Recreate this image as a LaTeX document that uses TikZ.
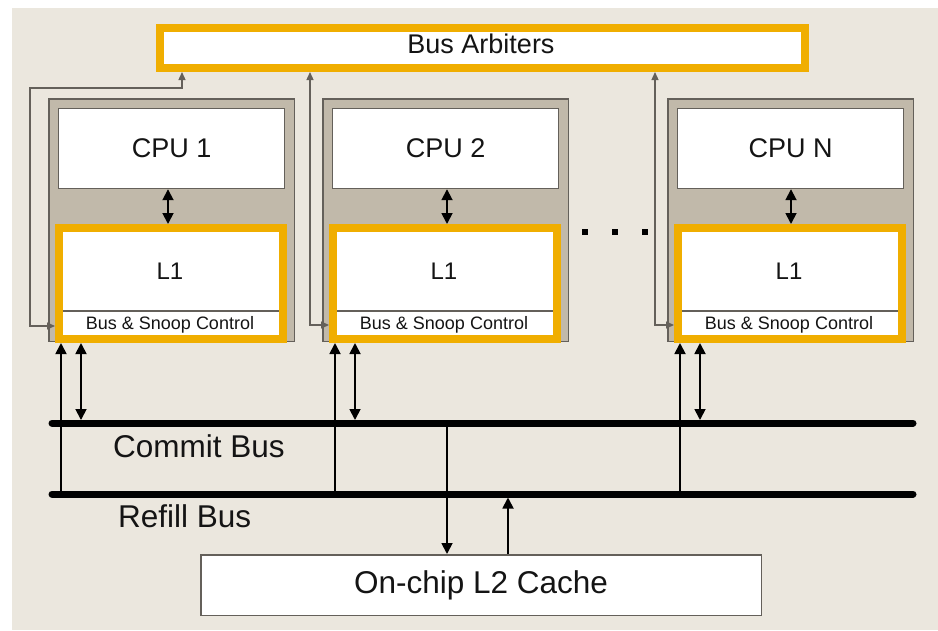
\documentclass[tikz,border=0pt]{standalone}
\usepackage{fontspec}
\setmainfont{Liberation Sans}
\usetikzlibrary{arrows.meta}
\definecolor{paper}{RGB}{235,231,222}
\definecolor{tan}{RGB}{193,185,170}
\definecolor{edge}{RGB}{100,96,90}
\definecolor{gold}{RGB}{240,174,0}
\definecolor{ink}{RGB}{20,20,20}
\begin{document}
\begin{tikzpicture}[x=1pt,y=-1pt,
  blk/.style={draw, rectangle, anchor=north west, inner sep=0pt},
  frame/.style={blk, draw=edge, fill=tan, line width=1.5pt,
    minimum width=245.5pt, minimum height=242.5pt},
  cpubox/.style={blk, draw=edge, fill=white, line width=1.2pt,
    minimum width=226pt, minimum height=80pt,
    text=ink, font=\fontsize{27}{30}\selectfont},
  l1box/.style={blk, draw=gold, fill=white, line width=8pt,
    minimum width=224pt, minimum height=111pt},
  arbbox/.style={blk, draw=gold, fill=white, line width=8pt,
    minimum width=645pt, minimum height=40pt},
  l2box/.style={blk, draw=edge, fill=white, line width=1.5pt,
    minimum width=560.5pt, minimum height=60.5pt,
    text=ink, font=\fontsize{31.5}{34}\selectfont},
  lbl/.style={anchor=base, inner sep=0pt, text=ink},
  bus/.style={draw=black, line width=7pt, line cap=round},
  tip/.tip={Triangle[length=11pt,width=11pt]},
  link/.style={draw=black, line width=1.8pt, -tip},
  dlink/.style={draw=black, line width=1.8pt, tip-tip},
  ctl/.style={draw=edge, line width=1.3pt,
    {Triangle[length=8pt,width=7pt]}-{Triangle[length=8pt,width=7pt]}}
]
\useasboundingbox (0,0) rectangle (938,630);
\fill[white] (0,0) rectangle (938,630);
\fill[paper] (12,8) rectangle (938,630);

% arbitration unit
\node[arbbox] (arb) at (156,24) {};
\node[lbl, font=\fontsize{27}{29}\selectfont] (arbtxt) at (481,53) {Bus Arbiters};

% processor tiles: frame, core, private L1 with bus/snoop logic
\foreach \x/\n/\t/\m in {48/1/1/120, 322/2/2/125, 667/3/N/124}{
  \node[frame] (f\n) at (\x,98) {};
  \node[cpubox] (cpu\n) at (\x+10,108) {CPU \t};
  \node[l1box] (l1\n) at (\x+7,224) {};
  \draw[edge, line width=1.5pt] (\x+15,311) -- (\x+231,311);
  \node[lbl, font=\fontsize{24}{26}\selectfont] (l1t\n) at (\x+122,279) {L1};
  \node[lbl, font=\fontsize{18}{20}\selectfont] (snp\n) at (\x+122,329) {Bus \& Snoop Control};
  \coordinate (m\n) at (\x+\m,0);
  \draw[dlink] (cpu\n.south -| m\n) -- (l1\n.north -| m\n);
}

% ellipsis between tiles
\foreach \d in {585,615,645}{
  \fill[black] (\d-3,229) rectangle (\d+3,235);
}

% arbiter request/grant lines
\coordinate (a1) at (182,88);
\coordinate (a1b) at (30,326);
\draw[ctl] (arb.south -| a1) -- (a1) -| (a1b) -- (l11.west |- a1b);
\coordinate (a2) at (310,325);
\draw[ctl] (arb.south -| a2) -- (a2) -- (l12.west |- a2);
\coordinate (a3) at (655,325);
\draw[ctl] (arb.south -| a3) -- (a3) -- (l13.west |- a3);

% shared buses
\coordinate (cbL) at (52,423);
\coordinate (cbR) at (913,423);
\coordinate (cbT) at (52,420);
\coordinate (rbL) at (52,494);
\coordinate (rbR) at (913,494);
\coordinate (rbB) at (52,497.5);
\draw[bus] (cbL) -- (cbR);
\draw[bus] (rbL) -- (rbR);
\node[lbl, anchor=base west, font=\fontsize{31.5}{34}\selectfont] (cbtxt) at (113,457) {Commit Bus};
\node[lbl, anchor=base west, font=\fontsize{31.5}{34}\selectfont] (rbtxt) at (118,527) {Refill Bus};

% bus taps of each tile
\foreach \x/\n in {48/1, 322/2, 667/3}{
  \coordinate (u\n) at (\x+13,0);
  \coordinate (d\n) at (\x+33,0);
  \draw[link] (rbL -| u\n) -- (l1\n.south -| u\n);
  \draw[dlink] (cbT -| d\n) -- (l1\n.south -| d\n);
}

% shared L2
\node[l2box] (l2) at (200,554) {On-chip L2 Cache};
\coordinate (k1) at (447,0);
\coordinate (k2) at (508,0);
\draw[link] (cbL -| k1) -- (l2.north -| k1);
\draw[link] (l2.north -| k2) -- (rbB -| k2);
\end{tikzpicture}
\end{document}
